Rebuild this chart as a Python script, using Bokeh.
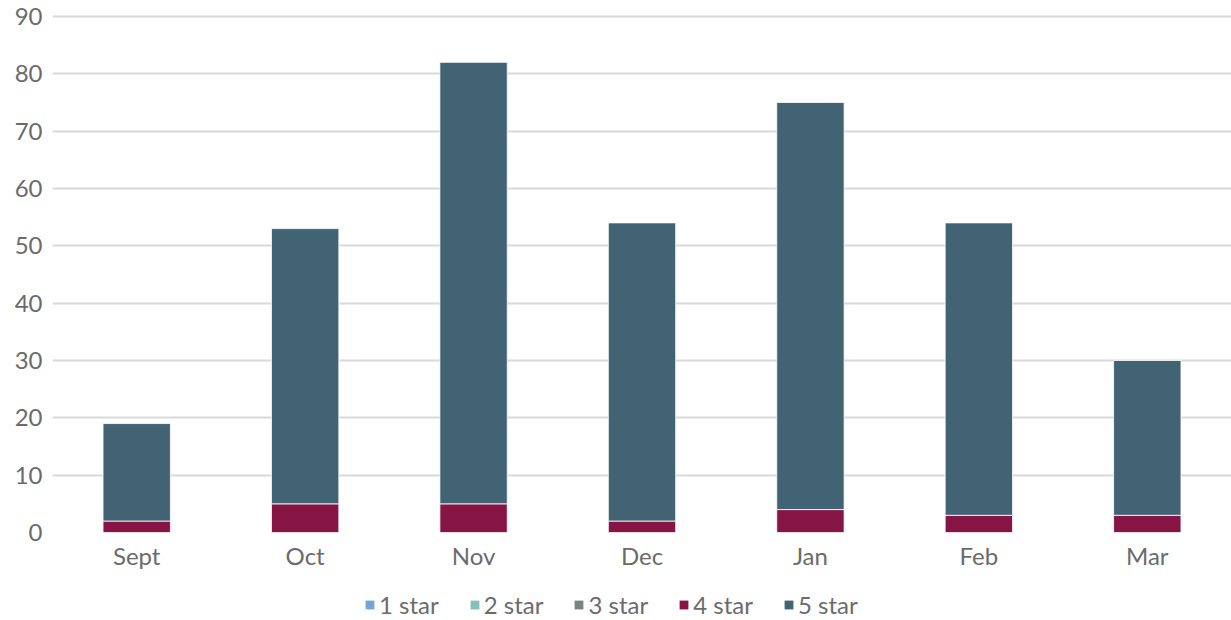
from bokeh.plotting import figure
from bokeh.layouts import column
from bokeh.models import ColumnDataSource, Legend, LegendItem, Range1d, FactorRange
from bokeh.embed import file_html
from bokeh.resources import INLINE

months = ["Sept", "Oct", "Nov", "Dec", "Jan", "Feb", "Mar"]
star1 = [0, 0, 0, 0, 0, 0, 0]
star2 = [0, 0, 0, 0, 0, 0, 0]
star3 = [0, 0, 0, 0, 0, 0, 0]
star4 = [2, 5, 5, 2, 4, 3, 3]
star5 = [17, 48, 77, 52, 71, 51, 27]
series = ["1 star", "2 star", "3 star", "4 star", "5 star"]
colors = ["#74a5da", "#84c0b8", "#7b8580", "#861545", "#416373"]
y_ticks = [0, 10, 20, 30, 40, 50, 60, 70, 80, 90]

FONT = "Lato"
TXT = "#6b6b6b"
FS = "24px"

src = ColumnDataSource(dict(month=months, s1=star1, s2=star2, s3=star3, s4=star4, s5=star5))

p = figure(x_range=FactorRange(*months, range_padding=0), y_range=Range1d(0, 90.52),
           width=1231, height=574, output_backend="svg", toolbar_location=None,
           min_border_left=52, min_border_right=0, min_border_top=13, min_border_bottom=42)

rs = p.vbar_stack(["s1", "s2", "s3", "s4", "s5"], x="month", width=0.4, source=src,
                  color=colors, line_color="white", line_width=0.8)

p.outline_line_color = None
p.xgrid.grid_line_color = None
p.ygrid.grid_line_color = "#d9d9d9"
p.ygrid.grid_line_width = 2
p.yaxis.ticker = y_ticks
for ax in (p.xaxis[0], p.yaxis[0]):
    ax.axis_line_color = None
    ax.major_tick_line_color = None
    ax.minor_tick_line_color = None
    ax.major_tick_out = 0
    ax.major_tick_in = 0
    ax.minor_tick_out = 0
    ax.major_label_text_font = FONT
    ax.major_label_text_font_size = FS
    ax.major_label_text_color = TXT
p.yaxis.major_label_standoff = 10
p.xaxis.major_label_standoff = 8

# legend strip below the chart (swatches are off-range placeholders)
lf = figure(width=1231, height=46, output_backend="svg", toolbar_location=None,
            x_range=Range1d(0, 1), y_range=Range1d(0, 1),
            min_border_left=0, min_border_right=0, min_border_top=0, min_border_bottom=0)
lf.axis.visible = False
lf.grid.visible = False
lf.outline_line_color = None
swatches = [lf.vbar(x=[-10], top=[-10], bottom=[-11], width=0.1, color=c, line_color=None)
            for c in colors]

legend = Legend(items=[LegendItem(label=s, renderers=[r]) for s, r in zip(series, swatches)],
                orientation="horizontal", location=(312, 1),
                label_text_font=FONT, label_text_font_size=FS, label_text_color=TXT,
                glyph_width=11, glyph_height=11, label_standoff=4, spacing=30,
                border_line_color=None, background_fill_alpha=0, padding=0, margin=0)
lf.add_layout(legend, "center")

layout = column(p, lf, spacing=0)
open("out.html", "w").write(file_html(layout, INLINE))
